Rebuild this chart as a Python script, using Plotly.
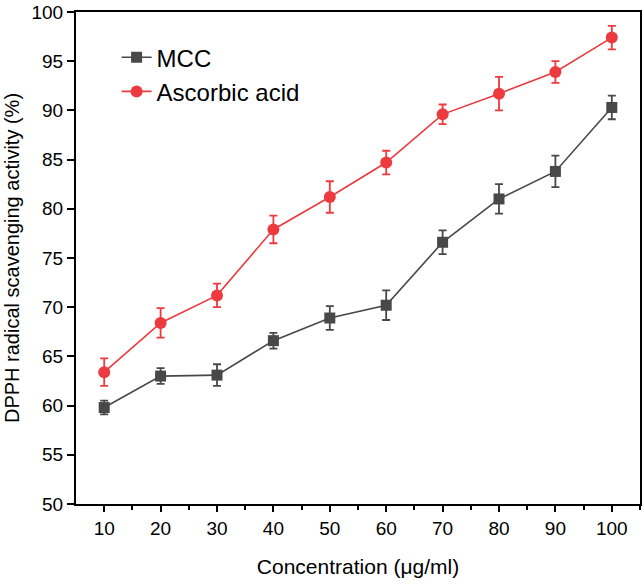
import plotly.graph_objects as go

concentration = [10, 20, 30, 40, 50, 60, 70, 80, 90, 100]
mcc = [59.8, 63.0, 63.1, 66.6, 68.9, 70.2, 76.6, 81.0, 83.8, 90.3]
mcc_err = [0.7, 0.8, 1.1, 0.8, 1.2, 1.5, 1.2, 1.5, 1.6, 1.2]
ascorbic = [63.4, 68.4, 71.2, 77.9, 81.2, 84.7, 89.6, 91.7, 93.9, 97.4]
ascorbic_err = [1.4, 1.5, 1.2, 1.4, 1.6, 1.2, 1.0, 1.7, 1.1, 1.2]

grey = "#484848"
red = "#ec3a3f"
font = "Liberation Sans, Arial, sans-serif"

fig = go.Figure()
fig.add_trace(go.Scatter(
    x=concentration, y=mcc, name="MCC", mode="lines+markers",
    line=dict(color=grey, width=1.6),
    marker=dict(symbol="square", size=11, color=grey),
    error_y=dict(type="data", array=mcc_err, color=grey, thickness=1.8, width=4),
))
fig.add_trace(go.Scatter(
    x=concentration, y=ascorbic, name="Ascorbic acid", mode="lines+markers",
    line=dict(color=red, width=1.6),
    marker=dict(symbol="circle", size=12, color=red),
    error_y=dict(type="data", array=ascorbic_err, color=red, thickness=1.8, width=4),
))

fig.update_layout(
    width=644, height=587,
    margin=dict(l=76, r=2, t=12, b=83),
    paper_bgcolor="white", plot_bgcolor="white",
    font=dict(family=font, size=19, color="black"),
    showlegend=True,
    legend=dict(x=0.072, y=0.953, xanchor="left", yanchor="top",
                bgcolor="rgba(0,0,0,0)", font=dict(size=24, family=font),
                tracegroupgap=0),
    xaxis=dict(
        range=[5, 105], tickvals=[10, 20, 30, 40, 50, 60, 70, 80, 90, 100],
        showgrid=False, zeroline=False, showline=True, linecolor="black", linewidth=2,
        mirror=True, ticks="outside", ticklen=6, tickwidth=1.5, tickcolor="black",
        minor=dict(tickvals=[15, 25, 35, 45, 55, 65, 75, 85, 95, 105], ticks="outside",
                   ticklen=4, tickwidth=1.5, tickcolor="black"),
        title=dict(text="Concentration (μg/ml)", standoff=22, font=dict(size=21)),
        tickfont=dict(size=19),
    ),
    yaxis=dict(
        range=[50, 100], tickvals=[50, 55, 60, 65, 70, 75, 80, 85, 90, 95, 100],
        showgrid=False, zeroline=False, showline=True, linecolor="black", linewidth=2,
        mirror=True, ticks="outside", ticklen=7, tickwidth=1.5, tickcolor="black",
        title=dict(text="DPPH radical scavenging activity (%)", standoff=6, font=dict(size=20)),
        tickfont=dict(size=19),
    ),
)

fig.write_html("out.html", config={"displayModeBar": False},
               post_script="document.body.style.margin='0';")
